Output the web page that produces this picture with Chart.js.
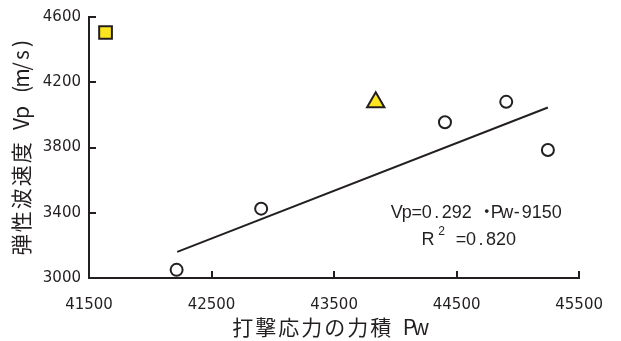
<!DOCTYPE html>
<html><head><meta charset="utf-8">
<script src="https://cdn.jsdelivr.net/npm/chart.js@4.4.0/dist/chart.umd.min.js"></script>
<style>html,body{margin:0;padding:0;background:#fff;}canvas{display:block;}</style>
</head><body>
<canvas id="c" width="621" height="341"></canvas>
<script>
// ---- data ----
const xTickValues = [41500, 42500, 43500, 44500, 45500];
const yTickValues = [3000, 3400, 3800, 4200, 4600];
const circlePw = [42215, 42905, 44405, 44905, 45245];
const circleVp = [3050, 3425, 3955, 4080, 3785];
const squarePw = [41635];
const squareVp = [4505];
const trianglePw = [43840];
const triangleVp = [4078];
const trendPw = [42220, 45245];
const trendVp = [3160, 4045];
const xTitle = '打撃応力の力積 Pw';
const yTitle = '弾性波速度 Vp (m/s)';
const eqLine1 = 'Vp=0.292 ・Pw-9150';
const eqLine2 = ['R', '2', '=0.820'];

const INK = '#231f20';
const YELLOW = '#fce61f';

function pts(xs, ys) { return xs.map((x, i) => ({x: x, y: ys[i]})); }
function isWide(ch) { return ch.charCodeAt(0) > 0x2e80; }

function drawMono(ctx, text, x0, y, font, wide, narrow) {
  ctx.font = font;
  ctx.textAlign = 'center';
  let x = x0;
  for (const ch of text) {
    const adv = isWide(ch) ? wide : narrow;
    if (ch !== ' ') ctx.fillText(ch, x + adv / 2, y);
    x += adv;
  }
  return x - x0;
}
function monoWidth(text, wide, narrow) {
  let w = 0;
  for (const ch of text) w += isWide(ch) ? wide : narrow;
  return w;
}

const innerTicks = {
  id: 'innerTicks',
  afterDraw(chart) {
    const ctx = chart.ctx, xs = chart.scales.x, ys = chart.scales.y, a = chart.chartArea;
    ctx.save();
    ctx.strokeStyle = INK;
    ctx.lineWidth = 2;
    ctx.beginPath();
    xTickValues.forEach(v => {
      if (v === xs.min) return;
      const px = Math.round(xs.getPixelForValue(v));
      ctx.moveTo(px, a.bottom);
      ctx.lineTo(px, a.bottom - 7);
    });
    yTickValues.forEach(v => {
      if (v === ys.min) return;
      const py = Math.round(ys.getPixelForValue(v));
      ctx.moveTo(a.left, py);
      ctx.lineTo(a.left + 7, py);
    });
    ctx.stroke();
    ctx.restore();
  }
};

const texts = {
  id: 'texts',
  afterDraw(chart) {
    const ctx = chart.ctx;
    ctx.save();
    ctx.fillStyle = INK;
    ctx.textBaseline = 'middle';
    const tf = '21px "Noto Sans CJK JP"';
    const xw = monoWidth(xTitle, 23, 11.5);
    drawMono(ctx, xTitle, 329 - xw / 2, 327, tf, 23, 11.5);
    const yw = monoWidth(yTitle, 23, 11.5);
    ctx.save();
    ctx.translate(21, 147);
    ctx.rotate(-Math.PI / 2);
    drawMono(ctx, yTitle, -yw / 2, 0, tf, 23, 11.5);
    ctx.restore();
    ctx.textBaseline = 'alphabetic';
    const ef = '18px "Liberation Sans", "Noto Sans CJK JP"';
    drawMono(ctx, eqLine1, 391.7, 218, ef, 10, 10);
    ctx.font = ef; ctx.textAlign = 'center';
    ctx.fillText(eqLine2[0], 428, 245);
    ctx.font = '12px "Liberation Sans"';
    ctx.fillText(eqLine2[1], 441.5, 235);
    drawMono(ctx, eqLine2[2], 456, 245, ef, 10, 10);
    ctx.restore();
  }
};

new Chart(document.getElementById('c'), {
  type: 'scatter',
  data: {
    datasets: [
      { data: pts(trendPw, trendVp), showLine: true, borderColor: INK, borderWidth: 2, pointRadius: 0, order: 4 },
      { data: pts(circlePw, circleVp), pointStyle: 'circle', pointRadius: 6, backgroundColor: '#fff', borderColor: INK, borderWidth: 2, order: 1 },
      { data: pts(squarePw, squareVp), pointStyle: 'rect', pointRadius: 9, backgroundColor: YELLOW, borderColor: INK, borderWidth: 2, order: 1 },
      { data: pts(trianglePw, triangleVp), pointStyle: 'triangle', pointRadius: 10, backgroundColor: YELLOW, borderColor: INK, borderWidth: 2, order: 1 }
    ]
  },
  options: {
    responsive: false,
    animation: false,
    devicePixelRatio: 1,
    clip: false,
    layout: { padding: { top: 15, right: 26, left: 0, bottom: 0 } },
    plugins: { legend: { display: false }, tooltip: { enabled: false } },
    scales: {
      x: {
        type: 'linear', min: 41500, max: 45500,
        afterBuildTicks: s => { s.ticks = xTickValues.map(v => ({ value: v })); },
        afterFit: s => { s.height = 63; },
        grid: { display: false, drawTicks: false },
        border: { display: true, color: INK, width: 2 },
        ticks: { font: { family: 'DejaVu Sans', size: 15 }, color: INK, padding: 18, maxRotation: 0, autoSkip: false, callback: v => String(v) }
      },
      y: {
        type: 'linear', min: 3000, max: 4600,
        afterBuildTicks: s => { s.ticks = yTickValues.map(v => ({ value: v })); },
        afterFit: s => { s.width = 89; },
        grid: { display: false, drawTicks: false },
        border: { display: true, color: INK, width: 2 },
        ticks: { font: { family: 'DejaVu Sans', size: 15 }, color: INK, padding: 8, autoSkip: false, callback: v => String(v) }
      }
    }
  },
  plugins: [innerTicks, texts]
});
</script>
</body></html>
